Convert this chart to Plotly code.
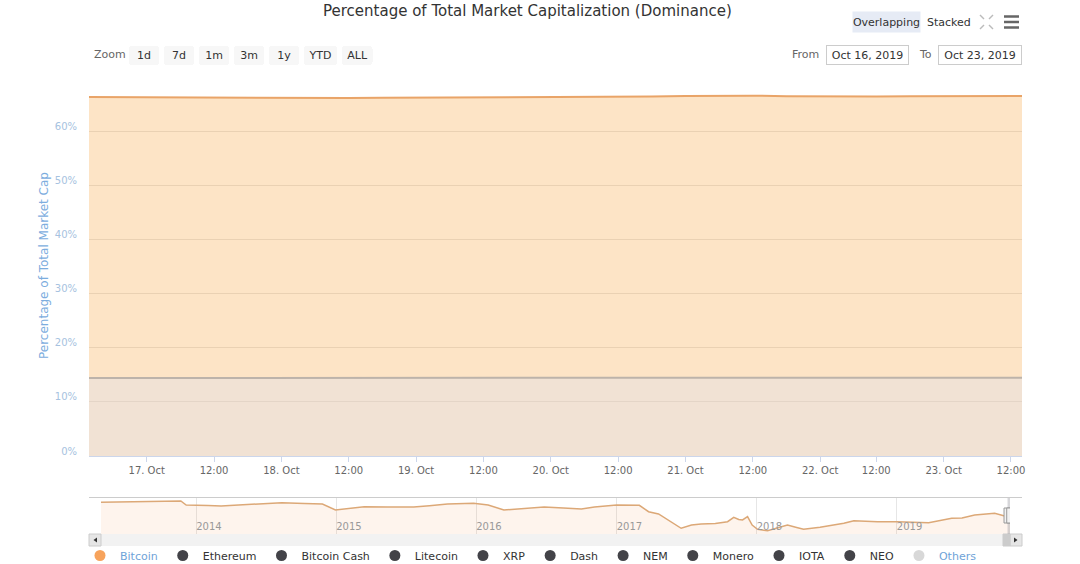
import plotly.graph_objects as go

W, H = 1080, 564


def px_x(x):
    return x / W


def px_y(y):
    return 1 - y / H


FONT = "DejaVu Sans"

# ---------------- data ----------------
main_times = [
    "2019-10-16 12:00", "2019-10-16 18:00",
    "2019-10-17 00:00", "2019-10-17 06:00", "2019-10-17 12:00", "2019-10-17 18:00",
    "2019-10-18 00:00", "2019-10-18 06:00", "2019-10-18 12:00", "2019-10-18 18:00",
    "2019-10-19 00:00", "2019-10-19 06:00", "2019-10-19 12:00", "2019-10-19 18:00",
    "2019-10-20 00:00", "2019-10-20 06:00", "2019-10-20 12:00", "2019-10-20 18:00",
    "2019-10-21 00:00", "2019-10-21 06:00", "2019-10-21 12:00", "2019-10-21 18:00",
    "2019-10-22 00:00", "2019-10-22 06:00", "2019-10-22 12:00", "2019-10-22 18:00",
    "2019-10-23 00:00", "2019-10-23 06:00", "2019-10-23 12:00", "2019-10-23 18:00",
]
bitcoin_pct = [
    66.30, 66.28,
    66.25, 66.20, 66.12, 66.08,
    66.05, 66.07, 66.10, 66.15,
    66.18, 66.20, 66.22, 66.20,
    66.25, 66.30, 66.32, 66.38,
    66.50, 66.58, 66.55, 66.45,
    66.40, 66.38, 66.42, 66.45,
    66.42, 66.38, 66.40, 66.48,
]
others_pct = [
    14.42, 14.42,
    14.41, 14.40, 14.40, 14.41,
    14.42, 14.43, 14.43, 14.42,
    14.42, 14.41, 14.40, 14.40,
    14.40, 14.41, 14.40, 14.38,
    14.35, 14.33, 14.32, 14.33,
    14.35, 14.36, 14.38, 14.40,
    14.42, 14.43, 14.45, 14.45,
]

nav_dates = [
    "2013-04-28", "2013-06-15", "2013-08-09", "2013-10-01", "2013-11-22", "2013-12-06",
    "2014-01-01", "2014-02-01", "2014-03-07", "2014-05-10", "2014-08-12", "2014-10-10",
    "2014-11-26", "2014-12-30", "2015-02-01", "2015-03-15", "2015-05-15", "2015-07-22",
    "2015-09-01", "2015-10-18", "2015-12-25", "2016-02-01", "2016-03-13", "2016-05-01",
    "2016-06-26", "2016-08-15", "2016-10-01", "2016-11-04", "2017-01-01", "2017-03-01",
    "2017-03-25", "2017-04-20", "2017-05-20", "2017-06-18", "2017-07-15", "2017-08-09",
    "2017-09-15", "2017-10-17", "2017-11-02", "2017-11-15", "2017-11-25", "2017-12-08",
    "2017-12-20", "2018-01-03", "2018-01-29", "2018-03-01", "2018-03-22", "2018-04-15",
    "2018-05-03", "2018-06-15", "2018-08-16", "2018-09-11", "2018-10-10", "2018-11-12",
    "2019-01-01", "2019-02-10", "2019-03-25", "2019-05-24", "2019-06-20", "2019-07-23",
    "2019-09-13", "2019-10-09", "2019-10-23",
]
nav_bitcoin_pct = [
    94.0, 94.3, 94.6, 95.5, 96.8, 88.2,
    88.2, 87.0, 86.1, 89.5, 93.1, 91.5,
    90.3, 77.5, 80.5, 84.5, 84.0, 83.9,
    86.5, 90.3, 91.9, 88.0, 77.5, 81.0,
    83.9, 81.5, 79.6, 83.9, 88.2, 87.6,
    73.8, 68.9, 54.0, 38.2, 45.0, 47.4,
    48.5, 52.3, 61.8, 57.0, 56.0, 63.1,
    45.0, 36.0, 33.0, 40.5, 45.2, 40.0,
    36.0, 40.5, 48.9, 54.5, 53.0, 52.3,
    52.3, 51.5, 50.2, 59.6, 60.5, 66.7,
    70.4, 64.6, 66.3,
]

legend_names = ["Bitcoin", "Ethereum", "Bitcoin Cash", "Litecoin", "XRP", "Dash",
                "NEM", "Monero", "IOTA", "NEO", "Others"]
legend_colors = ["#f7a35c", "#434348", "#434348", "#434348", "#434348", "#434348",
                 "#434348", "#434348", "#434348", "#434348", "#d8d8d8"]

y_ticks = [0, 10, 20, 30, 40, 50, 60, 70]
y_tick_text = ["0%", "10%", "20%", "30%", "40%", "50%", "60%", ""]

x_tick_times = [
    "2019-10-17 00:00", "2019-10-17 12:00", "2019-10-18 00:00", "2019-10-18 12:00",
    "2019-10-19 00:00", "2019-10-19 12:00", "2019-10-20 00:00", "2019-10-20 12:00",
    "2019-10-21 00:00", "2019-10-21 12:00", "2019-10-22 00:00", "2019-10-22 12:00",
    "2019-10-23 00:00", "2019-10-23 12:00",
]
x_tick_text = ["17. Oct", "12:00", "18. Oct", "12:00", "19. Oct", "12:00", "20. Oct",
               "12:00", "21. Oct", "12:00", "22. Oct", "12:00", "23. Oct", "12:00"]

nav_years = ["2014-01-01", "2015-01-01", "2016-01-01", "2017-01-01", "2018-01-01", "2019-01-01"]
nav_year_text = ["2014", "2015", "2016", "2017", "2018", "2019"]

view_start = "2019-10-16 13:43"
view_end = "2019-10-23 13:58"

# ---------------- figure ----------------
fig = go.Figure()

fig.add_trace(go.Scatter(
    x=main_times, y=bitcoin_pct, name="Bitcoin", mode="lines",
    line=dict(color="#e9a468", width=2), fill="tozeroy",
    fillcolor="rgba(247,147,26,0.25)", showlegend=False,
    xaxis="x", yaxis="y"))
fig.add_trace(go.Scatter(
    x=main_times, y=others_pct, name="Others", mode="lines",
    line=dict(color="#bdb3aa", width=2), fill="tozeroy",
    fillcolor="rgba(215,222,245,0.3)", showlegend=False,
    xaxis="x", yaxis="y"))

fig.add_trace(go.Scatter(
    x=nav_dates, y=nav_bitcoin_pct, name="Bitcoin (navigator)", mode="lines",
    line=dict(color="#dca877", width=1.5), fill="tozeroy",
    fillcolor="rgba(245,150,80,0.10)", showlegend=False,
    xaxis="x2", yaxis="y2", hoverinfo="skip"))

for name, col in zip(legend_names, legend_colors):
    if name in ("Bitcoin", "Others"):
        label = f"<span style='color:#6fa3d8'>{name}</span>"
    else:
        label = name
    fig.add_trace(go.Scatter(
        x=[None], y=[None], mode="markers", name=label,
        marker=dict(symbol="circle", size=11, color=col),
        xaxis="x", yaxis="y", showlegend=True))

# ---------------- shapes ----------------
shapes = []
shapes.append(dict(type="line", xref="paper", yref="paper",
                   x0=px_x(89), x1=px_x(1022), y0=px_y(497.5), y1=px_y(497.5),
                   line=dict(color="#cccccc", width=1)))
shapes.append(dict(type="rect", xref="paper", yref="paper",
                   x0=px_x(89), x1=px_x(1022), y0=px_y(546), y1=px_y(534),
                   fillcolor="#f2f2f2", line=dict(width=0), layer="below"))
for a, b in [(89, 101), (1010, 1022)]:
    shapes.append(dict(type="rect", xref="paper", yref="paper",
                       x0=px_x(a), x1=px_x(b), y0=px_y(546), y1=px_y(534),
                       fillcolor="#e6e6e6", line=dict(color="#cccccc", width=1)))
shapes.append(dict(type="rect", xref="paper", yref="paper",
                   x0=px_x(1003), x1=px_x(1010), y0=px_y(546), y1=px_y(534),
                   fillcolor="#cccccc", line=dict(color="#cccccc", width=1)))


def tri(points):
    return "M " + " L ".join(f"{px_x(x):.5f},{px_y(y):.5f}" for x, y in points) + " Z"


shapes.append(dict(type="path", xref="paper", yref="paper",
                   path=tri([(97, 537.5), (97, 542.5), (93.5, 540)]),
                   fillcolor="#333333", line=dict(width=0)))
shapes.append(dict(type="path", xref="paper", yref="paper",
                   path=tri([(1014, 537.5), (1014, 542.5), (1017.5, 540)]),
                   fillcolor="#333333", line=dict(width=0)))
shapes.append(dict(type="rect", xref="x2", yref="paper",
                   x0=view_start, x1=view_end, y0=px_y(534), y1=px_y(498),
                   fillcolor="rgba(140,140,150,0.35)", line=dict(width=0)))
for anchor in (view_start, view_end):
    shapes.append(dict(type="rect", xref="x2", yref="paper", xsizemode="pixel",
                       xanchor=anchor, x0=-3.5, x1=3.5, y0=px_y(523), y1=px_y(508),
                       fillcolor="#f2f2f2", line=dict(color="#999999", width=1)))
for (xa, ya, xb, yb) in [(980, 15, 984, 19), (993, 15, 989, 19), (980, 29, 984, 25), (993, 29, 989, 25)]:
    shapes.append(dict(type="line", xref="paper", yref="paper",
                       x0=px_x(xa), y0=px_y(ya), x1=px_x(xb), y1=px_y(yb),
                       line=dict(color="#bbbbbb", width=1.5)))
for yy in (16.5, 22, 27.5):
    shapes.append(dict(type="line", xref="paper", yref="paper",
                       x0=px_x(1004), x1=px_x(1019), y0=px_y(yy), y1=px_y(yy),
                       line=dict(color="#666666", width=2.5)))


# ---------------- annotations ----------------
def note(text, x, y, size=11, color="#333333", **kw):
    d = dict(text=text, xref="paper", yref="paper", x=px_x(x), y=px_y(y),
             xanchor="center", yanchor="middle", showarrow=False,
             font=dict(family=FONT, size=size, color=color))
    d.update(kw)
    return d


annotations = [
    note("Percentage of Total Market Capitalization (Dominance)", 527, 0, size=15,
         yanchor="top"),
    note("Percentage of Total Market Cap", 44, 266, size=12, color="#7cadde", textangle=-90),
    note("Zoom", 110, 55, color="#666666"),
    note("From", 805, 55, color="#666666"),
    note("To", 925, 55, color="#666666"),
    note("Oct 16, 2019", 867.5, 55, width=81, height=18, borderpad=0, borderwidth=1,
         bordercolor="#cccccc", bgcolor="#ffffff"),
    note("Oct 23, 2019", 980, 55, width=82, height=18, borderpad=0, borderwidth=1,
         bordercolor="#cccccc", bgcolor="#ffffff"),
    note("Overlapping", 886.5, 22, width=67, height=20, borderpad=0, bgcolor="#e6ebf5"),
    note("Stacked", 948.5, 22),
]

# ---------------- layout ----------------
fig.update_layout(
    width=W, height=H,
    margin=dict(l=0, r=0, t=0, b=0, autoexpand=False),
    paper_bgcolor="#ffffff", plot_bgcolor="#ffffff",
    font=dict(family=FONT, size=10, color="#666666"),
    showlegend=True,
    legend=dict(orientation="h", x=px_x(531), xanchor="center", y=px_y(555.5), yanchor="middle",
                font=dict(family=FONT, size=11, color="#333333"), bgcolor="rgba(0,0,0,0)"),
    xaxis=dict(
        domain=[px_x(89), px_x(1022)], anchor="y", type="date",
        range=[view_start, view_end],
        rangebreaks=[dict(bounds=["2019-10-22 03:00", "2019-10-22 05:00"])],
        tickmode="array", tickvals=x_tick_times, ticktext=x_tick_text,
        ticks="outside", ticklen=5, tickcolor="#ccd6eb",
        showline=True, linecolor="#ccd6eb", showgrid=False, zeroline=False,
        tickfont=dict(family=FONT, size=10, color="#666666"),
        rangeselector=dict(
            buttons=[
                dict(count=1, label="1d", step="day", stepmode="backward"),
                dict(count=7, label="7d", step="day", stepmode="backward"),
                dict(count=1, label="1m", step="month", stepmode="backward"),
                dict(count=3, label="3m", step="month", stepmode="backward"),
                dict(count=1, label="1y", step="year", stepmode="backward"),
                dict(count=1, label="YTD", step="year", stepmode="todate"),
                dict(label="ALL", step="all"),
            ],
            x=px_x(129), xanchor="left", y=px_y(65), yanchor="bottom",
            bgcolor="#f7f7f7", activecolor="#e6ebf5", borderwidth=0,
            font=dict(family=FONT, size=11, color="#333333")),
    ),
    yaxis=dict(
        domain=[px_y(456), px_y(77)], anchor="x", range=[0, 70],
        tickmode="array", tickvals=y_ticks, ticktext=y_tick_text,
        gridcolor="#e6e6e6", zeroline=False, showline=False, ticks="",
        tickfont=dict(family=FONT, size=10, color="#a6c2e0"),
        ticklabelstandoff=11, ticklabelshift=-5, fixedrange=True,
    ),
    xaxis2=dict(
        domain=[px_x(101), px_x(1010)], anchor="y2", type="date",
        range=["2013-04-28", "2019-10-23"],
        tickmode="array", tickvals=nav_years, ticktext=nav_year_text,
        ticklabelposition="inside right", ticks="", ticklabelstandoff=-4,
        showgrid=True, gridcolor="#e6e6e6", showline=False, zeroline=False,
        tickfont=dict(family=FONT, size=10, color="#999999"), fixedrange=True,
    ),
    yaxis2=dict(
        domain=[px_y(534), px_y(498)], anchor="x2", range=[25.9, 103.2],
        visible=False, fixedrange=True,
    ),
    shapes=shapes,
    annotations=annotations,
)

fig.write_html("out.html", config={"displayModeBar": False},
               post_script="document.body.style.margin='0';")
